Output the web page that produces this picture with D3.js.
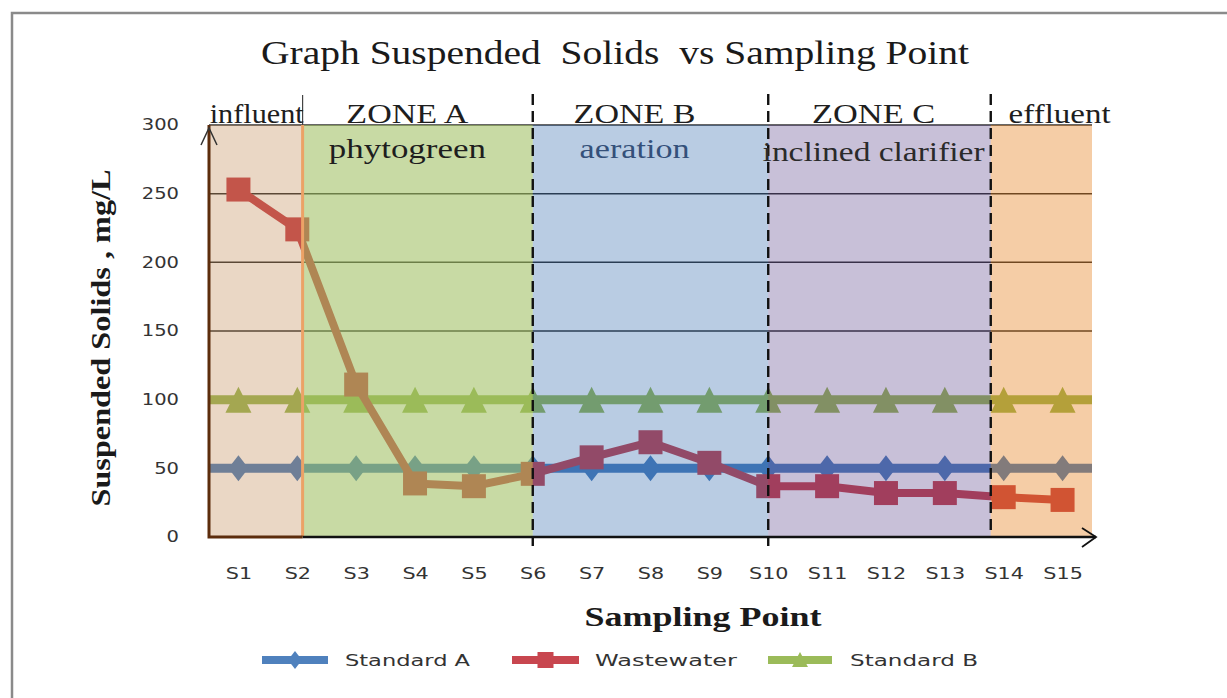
<!DOCTYPE html>
<html><head><meta charset="utf-8">
<script src="https://cdn.jsdelivr.net/npm/d3@7"></script>
<style>html,body{margin:0;padding:0;background:#fff;} svg{display:block;} text{white-space:pre;}</style>
</head><body>
<svg id="chart" width="1227" height="698"></svg>
<script>
// ---------------- data ----------------
const categories = ["S1","S2","S3","S4","S5","S6","S7","S8","S9","S10","S11","S12","S13","S14","S15"];
const standardA  = [50,50,50,50,50,50,50,50,50,50,50,50,50,50,50];
const wastewater = [253,224,111,39,37,46,58,69,54,37,37,32,32,29,27];
const standardB  = [100,100,100,100,100,100,100,100,100,100,100,100,100,100,100];
const yTicks = [0,50,100,150,200,250,300];
const seriesNames = ["Standard A","Wastewater","Standard B"];
const zoneNames = ["influent","ZONE A","ZONE B","ZONE C","effluent"];
const zoneSubtitles = ["","phytogreen","aeration","inclined clarifier",""];
// zone boundaries in sampling-point index units (S1 = 0)
const zoneBounds = [-0.5, 1.09, 5, 9, 12.78, 14.5];
const dividers = [5, 9, 12.78];
const chartTitle = "Graph Suspended  Solids  vs Sampling Point";
const xTitle = "Sampling Point";
const yTitle = "Suspended Solids , mg/L";

// ---------------- layout / style ----------------
const svg = d3.select("#chart");
const L = 209, R = 1092, T = 125, B = 537;
const x = d3.scalePoint().domain(categories).range([L, R]).padding(0.5);
const step = x.step();
const xi = i => x(categories[0]) + i * step;
const y = d3.scaleLinear().domain([0, 300]).range([B, T]);

const colA = "#4f81bd", colW = "#c8464f", colB = "#9bbb59";
const zoneStyle = [
  {fill:"rgb(185,122,62)", op:0.30},
  {fill:"rgb(155,187,89)", op:0.55},
  {fill:"rgb(22,85,162)",  op:0.30},
  {fill:"rgb(72,45,125)",  op:0.30},
  {fill:"rgb(226,112,0)",  op:0.35}
];
const labelCenters = [0.31, 2.87, 6.73, 10.79, 13.95];
const labelWidths = [94, 122, 122, 123, 102];
const subWidths = [0, 157, 110, 222, 0];
const subColors = ["#222","#1e1e1e","#34507a","#2a2a2a","#222"];

function fit(sel, w){ sel.attr("textLength", w).attr("lengthAdjust","spacingAndGlyphs"); }
function stretch(sel, f){ sel.each(function(){ const l=this.getComputedTextLength(); d3.select(this).attr("textLength", l*f).attr("lengthAdjust","spacingAndGlyphs"); }); }

// outer frame
svg.append("rect").attr("x",12).attr("y",13).attr("width",1260).attr("height",740)
  .attr("fill","#fff").attr("stroke","#8a8a8a").attr("stroke-width",2.5);

// gridlines
svg.append("g").selectAll("line").data(yTicks.filter(t=>t>0)).join("line")
  .attr("x1",L).attr("x2",R).attr("y1",d=>y(d)).attr("y2",d=>y(d))
  .attr("stroke","#333").attr("stroke-width",1.5);

// series
const diamond = "M0,-13L10,0L0,13L-10,0Z";
const triangle = "M0,-13L13,13L-13,13Z";
const seriesG = svg.append("g");
function stdLine(vals, col, markerPath){
  const pts = [[L, vals[0]]].concat(vals.map((v,i)=>[x(categories[i]), v])).concat([[R, vals[vals.length-1]]]);
  seriesG.append("path").attr("d", d3.line().x(d=>d[0]).y(d=>y(d[1]))(pts))
    .attr("fill","none").attr("stroke",col).attr("stroke-width",9);
  seriesG.append("g").selectAll("path").data(vals).join("path")
    .attr("d", markerPath).attr("fill", col)
    .attr("transform",(d,i)=>`translate(${x(categories[i])},${y(d)})`);
}
stdLine(standardA, colA, diamond);
stdLine(standardB, colB, triangle);
seriesG.append("path").attr("d", d3.line().x((d,i)=>x(categories[i])).y(d=>y(d))(wastewater))
  .attr("fill","none").attr("stroke",colW).attr("stroke-width",8).attr("stroke-linejoin","round");
seriesG.append("g").selectAll("rect").data(wastewater).join("rect")
  .attr("x",(d,i)=>x(categories[i])-12).attr("y",d=>y(d)-12).attr("width",24).attr("height",24)
  .attr("fill",colW);

// zone overlays
svg.append("g").selectAll("rect").data(zoneNames).join("rect")
  .attr("x",(d,i)=>xi(zoneBounds[i])).attr("width",(d,i)=>xi(zoneBounds[i+1])-xi(zoneBounds[i]))
  .attr("y",T).attr("height",B-T)
  .attr("fill",(d,i)=>zoneStyle[i].fill).attr("fill-opacity",(d,i)=>zoneStyle[i].op);

// influent box edges
svg.append("line").attr("x1",xi(zoneBounds[1])).attr("x2",xi(zoneBounds[1])).attr("y1",T).attr("y2",B)
  .attr("stroke","#eca266").attr("stroke-width",3);
svg.append("line").attr("x1",xi(zoneBounds[1])).attr("x2",xi(zoneBounds[1])).attr("y1",95).attr("y2",T)
  .attr("stroke","#444").attr("stroke-width",1.2);

// x axis
const xAxis = svg.append("g").attr("transform",`translate(0,${B})`)
  .call(d3.axisBottom(x).tickSize(0).tickPadding(31));
xAxis.select(".domain").remove();
xAxis.selectAll("text").attr("font-family","DejaVu Sans").attr("font-size",15).attr("fill","#333");
stretch(xAxis.selectAll("text"), 1.38);
svg.append("line").attr("x1",xi(zoneBounds[1])).attr("x2",R+4).attr("y1",B).attr("y2",B)
  .attr("stroke","#111").attr("stroke-width",2.5);
svg.append("path").attr("d",`M${R-10},${B-9}L${R+4},${B}L${R-10},${B+10}`)
  .attr("fill","none").attr("stroke","#111").attr("stroke-width",1.8);
// influent brown edges (left axis + bottom)
svg.append("path").attr("d",`M${L},${T}L${L},${B}L${xi(zoneBounds[1])},${B}`)
  .attr("fill","none").attr("stroke","#5c2c0c").attr("stroke-width",3);
svg.append("path").attr("d",`M${L-8},${T+20}L${L},${T+3}L${L+8},${T+20}`)
  .attr("fill","none").attr("stroke","#333").attr("stroke-width",1.5);

// y axis labels
const yAxis = svg.append("g").attr("transform",`translate(${L},0)`)
  .call(d3.axisLeft(y).tickValues(yTicks).tickSize(0).tickPadding(30));
yAxis.select(".domain").remove();
yAxis.selectAll("text").attr("font-family","DejaVu Sans").attr("font-size",15).attr("fill","#333");
stretch(yAxis.selectAll("text"), 1.3);

// dividers
svg.append("g").selectAll("line").data(dividers).join("line")
  .attr("x1",d=>xi(d)).attr("x2",d=>xi(d)).attr("y1",94).attr("y2",(d,i)=>i<2?546:B)
  .attr("stroke","#111").attr("stroke-width",2.4).attr("stroke-dasharray","11,6");

// zone labels
const lab = svg.append("g").attr("font-family","Liberation Serif");
lab.selectAll("text.zn").data(zoneNames).join("text").attr("class","zn")
  .attr("x",(d,i)=>xi(labelCenters[i])).attr("y",123).attr("text-anchor","middle")
  .attr("font-size",27).attr("fill","#1e1e1e").text(d=>d)
  .each(function(d,i){ fit(d3.select(this), labelWidths[i]); });
lab.selectAll("text.zs").data(zoneSubtitles.map((s,i)=>({s,i})).filter(d=>d.s)).join("text").attr("class","zs")
  .attr("x",d=>xi(labelCenters[d.i])).attr("y",d=>d.i===3?161:158).attr("text-anchor","middle")
  .attr("font-size",27).attr("fill",d=>subColors[d.i]).text(d=>d.s)
  .each(function(d){ fit(d3.select(this), subWidths[d.i]); });

// titles
fit(svg.append("text").attr("x",615).attr("y",64).attr("text-anchor","middle")
  .attr("font-family","Liberation Serif").attr("font-size",33).attr("fill","#1a1a1a").text(chartTitle), 708);
fit(svg.append("text").attr("x",703).attr("y",626).attr("text-anchor","middle")
  .attr("font-family","Liberation Serif").attr("font-weight","bold").attr("font-size",28).attr("fill","#1a1a1a").text(xTitle), 237);
fit(svg.append("text").attr("transform","translate(110,338) rotate(-90)").attr("text-anchor","middle")
  .attr("font-family","Liberation Serif").attr("font-weight","bold").attr("font-size",28).attr("fill","#1a1a1a").text(yTitle), 337);

// legend
const legendX = [[262,328,345,125],[512,579,595,142],[768,832,850,128]];
const legendCols = [colA, colW, colB];
const lg = svg.append("g");
seriesNames.forEach((name,i)=>{
  const [a,b,tx,tw] = legendX[i];
  const cy = 660;
  lg.append("line").attr("x1",a).attr("x2",b).attr("y1",cy).attr("y2",cy)
    .attr("stroke",legendCols[i]).attr("stroke-width",8);
  const cx = (a+b)/2;
  if(i===0) lg.append("path").attr("d","M0,-9L7,0L0,9L-7,0Z").attr("fill",colA).attr("transform",`translate(${cx},${cy})`);
  if(i===1) lg.append("rect").attr("x",cx-8).attr("y",cy-8).attr("width",16).attr("height",16).attr("fill",colW);
  if(i===2) lg.append("path").attr("d","M0,-8L8,7L-8,7Z").attr("fill",colB).attr("transform",`translate(${cx},${cy})`);
  fit(lg.append("text").attr("x",tx).attr("y",cy+6).attr("font-family","DejaVu Sans").attr("font-size",15)
    .attr("fill","#333").text(name), tw);
});
</script>
</body></html>
